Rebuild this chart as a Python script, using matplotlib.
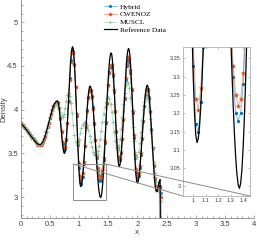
import numpy as np
import matplotlib
matplotlib.use('Agg')
import matplotlib.pyplot as plt
from matplotlib.patches import Rectangle, ConnectionPatch
from matplotlib.ticker import MultipleLocator, FormatStrFormatter

plt.rcParams['font.family'] = ['Liberation Sans', 'DejaVu Sans']

# ---------------- data ----------------
# Reference solution, sampled every 0.01 from x = 0
rho_ref = [
    3.850, 3.842, 3.834, 3.826, 3.818, 3.810, 3.802, 3.793, 3.785, 3.776,
    3.768, 3.759, 3.750, 3.741, 3.732, 3.723, 3.714, 3.705, 3.696, 3.687,
    3.678, 3.669, 3.660, 3.651, 3.643, 3.635, 3.627, 3.620, 3.614, 3.609,
    3.605, 3.602, 3.600, 3.600,
    3.601, 3.605, 3.612, 3.622, 3.634, 3.648, 3.664, 3.683, 3.703, 3.725,
    3.748, 3.773, 3.798, 3.824, 3.850, 3.876, 3.902, 3.927, 3.952, 3.975,
    3.997, 4.017, 4.036, 4.052, 4.067, 4.078, 4.088, 4.095, 4.099, 4.100,
    4.090, 4.060, 4.012, 3.950, 3.878, 3.800, 3.722, 3.650, 3.588, 3.540, 3.510, 3.500,
    3.515, 3.560, 3.633, 3.730, 3.845, 3.974, 4.110, 4.246, 4.375, 4.490, 4.587, 4.660, 4.705, 4.720,
    4.700, 4.641, 4.545, 4.419, 4.267, 4.098, 3.920, 3.742, 3.573, 3.421, 3.295, 3.199, 3.140, 3.120,
    3.131, 3.164, 3.217, 3.288, 3.376, 3.475, 3.583, 3.695, 3.807, 3.915, 4.014, 4.102, 4.173, 4.226, 4.259, 4.270,
    4.260, 4.232, 4.185, 4.121, 4.042, 3.951, 3.851, 3.743, 3.633, 3.522, 3.414, 3.314, 3.223, 3.144, 3.080, 3.034, 3.005, 2.995,
    3.008, 3.045, 3.106, 3.189, 3.291, 3.409, 3.540, 3.679, 3.823, 3.966, 4.106, 4.236, 4.354, 4.454, 4.536, 4.600, 4.637, 4.650,
    4.634, 4.586, 4.508, 4.405, 4.282, 4.145, 4.000, 3.855, 3.718, 3.595, 3.492, 3.414, 3.366, 3.350,
    3.363, 3.401, 3.464, 3.548, 3.650, 3.767, 3.893, 4.025, 4.157, 4.283, 4.400, 4.502, 4.586, 4.649, 4.687, 4.700,
    4.683, 4.633, 4.553, 4.445, 4.315, 4.168, 4.011, 3.849, 3.692, 3.545, 3.415, 3.307, 3.227, 3.177, 3.160,
    3.170, 3.198, 3.244, 3.306, 3.383, 3.470, 3.567, 3.668, 3.772, 3.873, 3.970, 4.057, 4.134, 4.196, 4.242, 4.270, 4.280,
    4.268, 4.234, 4.177, 4.101, 4.009, 3.903, 3.789, 3.670, 3.551, 3.437, 3.331, 3.239, 3.163, 3.106, 3.072, 3.060,
    3.069, 3.095, 3.130, 3.165, 3.191, 3.200,
    1.700,
]

# Numerical solutions, sampled every 0.02 from x = 0 (one row = 0.1 in x)
rho_hybrid = [
    3.85, 3.83, 3.82, 3.80, 3.79,
    3.77, 3.75, 3.73, 3.71, 3.70,
    3.68, 3.66, 3.64, 3.63, 3.61,
    3.60, 3.60, 3.60, 3.61, 3.63,
    3.66, 3.70, 3.75, 3.80, 3.85,
    3.90, 3.95, 4.00, 4.04, 4.07,
    4.09, 4.09, 4.08, 4.02, 3.89,
    3.74, 3.61, 3.54, 3.55, 3.65,
    3.85, 4.10, 4.36, 4.57, 4.68,
    4.67, 4.52, 4.26, 3.93, 3.60,
    3.33, 3.17, 3.15, 3.23, 3.38,
    3.58, 3.80, 4.00, 4.15, 4.23,
    4.23, 4.16, 4.03, 3.85, 3.65,
    3.45, 3.30, 3.20, 3.18, 3.20,
    3.28, 3.42, 3.62, 3.85, 4.08,
    4.28, 4.42, 4.49, 4.48, 4.38,
    4.20, 3.97, 3.74, 3.55, 3.44,
    3.42, 3.50, 3.66, 3.88, 4.12,
    4.34, 4.50, 4.57, 4.55, 4.42,
    4.22, 3.96, 3.68, 3.45, 3.29,
    3.22, 3.24, 3.33, 3.48, 3.67,
    3.87, 4.04, 4.17, 4.24, 4.24,
    4.15, 3.99, 3.78, 3.56, 3.35,
    3.19, 3.10, 3.08, 3.11, 3.13,
    3.05, 1.80,
]

rho_cwenoz = [
    3.85, 3.83, 3.82, 3.80, 3.79,
    3.77, 3.75, 3.73, 3.71, 3.70,
    3.68, 3.66, 3.64, 3.63, 3.61,
    3.60, 3.60, 3.60, 3.61, 3.63,
    3.66, 3.70, 3.75, 3.80, 3.85,
    3.90, 3.95, 4.00, 4.04, 4.07,
    4.08, 4.09, 4.08, 4.02, 3.90,
    3.76, 3.63, 3.56, 3.57, 3.66,
    3.85, 4.09, 4.34, 4.55, 4.66,
    4.65, 4.51, 4.26, 3.95, 3.64,
    3.39, 3.24, 3.21, 3.27, 3.40,
    3.59, 3.80, 3.99, 4.13, 4.21,
    4.21, 4.14, 4.01, 3.84, 3.65,
    3.47, 3.33, 3.25, 3.22, 3.24,
    3.31, 3.45, 3.64, 3.86, 4.08,
    4.28, 4.43, 4.51, 4.51, 4.41,
    4.23, 3.99, 3.76, 3.57, 3.46,
    3.44, 3.51, 3.67, 3.89, 4.13,
    4.36, 4.52, 4.60, 4.58, 4.45,
    4.24, 3.98, 3.71, 3.48, 3.32,
    3.25, 3.27, 3.36, 3.50, 3.68,
    3.87, 4.04, 4.16, 4.22, 4.21,
    4.12, 3.97, 3.77, 3.56, 3.37,
    3.22, 3.13, 3.10, 3.12, 3.10,
    3.00, 1.80,
]

rho_muscl = [
    3.85, 3.83, 3.82, 3.80, 3.79,
    3.77, 3.75, 3.73, 3.71, 3.70,
    3.68, 3.66, 3.64, 3.63, 3.62,
    3.61, 3.60, 3.61, 3.62, 3.64,
    3.67, 3.71, 3.75, 3.80, 3.85,
    3.90, 3.94, 3.98, 4.02, 4.05,
    4.07, 4.07, 4.06, 4.02, 3.97,
    3.93, 3.92, 3.95, 4.02, 4.10,
    4.17, 4.19, 4.16, 4.08, 3.96,
    3.83, 3.71, 3.63, 3.60, 3.62,
    3.67, 3.73, 3.79, 3.83, 3.85,
    3.86, 3.85, 3.82, 3.77, 3.70,
    3.63, 3.57, 3.52, 3.49, 3.48,
    3.49, 3.53, 3.59, 3.67, 3.76,
    3.86, 3.95, 4.03, 4.09, 4.13,
    4.14, 4.12, 4.06, 3.97, 3.86,
    3.74, 3.64, 3.57, 3.55, 3.58,
    3.66, 3.78, 3.92, 4.07, 4.19,
    4.28, 4.32, 4.31, 4.25, 4.13,
    3.98, 3.80, 3.64, 3.52, 3.46,
    3.46, 3.52, 3.62, 3.75, 3.88,
    4.00, 4.09, 4.14, 4.15, 4.11,
    4.02, 3.89, 3.73, 3.56, 3.40,
    3.27, 3.17, 3.11, 3.08, 3.05,
    2.95, 1.80,
]

labels = ['Hybrid', 'CWENOZ', 'MUSCL', 'Reference Data']
x_ticks = [0, 0.5, 1, 1.5, 2, 2.5, 3, 3.5, 4]
y_ticks = [3, 3.5, 4, 4.5, 5]
inset_x_ticks = [1, 1.1, 1.2, 1.3, 1.4]
inset_y_ticks = [3, 3.05, 3.1, 3.15, 3.2, 3.25, 3.3, 3.35]
zoom_box = (0.90, 1.46, 2.97, 3.378)   # x0, x1, y0, y1

x_ref = np.round(np.arange(len(rho_ref)) * 0.01, 2)
x_num = np.round(np.arange(len(rho_hybrid)) * 0.02, 2)

# ---------------- styles ----------------
blue = (0.0, 0.447, 0.741)
orange = (0.85, 0.325, 0.098)
green = (0.55, 0.78, 0.62)
tick_col = '#404040'
spine_col = '#8a8a8a'


def draw_series(a, ms_scale=1.0):
    hs = []
    hs += a.plot(x_num, rho_hybrid, '-', marker='o', color=blue + (0.55,),
                 mfc=blue, mec=blue, ms=1.9 * ms_scale, mew=0.3, lw=0.6)
    hs += a.plot(x_num, rho_cwenoz, '-', marker='*', color=orange + (0.55,),
                 mfc=orange, mec=orange, ms=3.1 * ms_scale, mew=0.3, lw=0.6)
    hs += a.plot(x_num, rho_muscl, '-', marker='+', color=green + (0.6,),
                 mfc=green, mec=green, ms=2.6 * ms_scale, mew=0.6, lw=0.6)
    hs += a.plot(x_ref, rho_ref, '-', color='black', lw=0.9)
    return hs


fig = plt.figure(figsize=(2.57, 2.40), dpi=100)
W, H = 257.0, 240.0

ax = fig.add_axes([20.7 / W, 1 - 218.3 / H, (254 - 20.7) / W, 218.3 / H])
handles = draw_series(ax)
ax.set_xlim(0, 4)
ax.set_ylim(2.757, 5.255)
ax.set_xticks(x_ticks)
ax.set_yticks(y_ticks)
ax.xaxis.set_major_formatter(FormatStrFormatter('%g'))
ax.yaxis.set_major_formatter(FormatStrFormatter('%g'))
ax.xaxis.set_minor_locator(MultipleLocator(0.1))
ax.yaxis.set_minor_locator(MultipleLocator(0.1))
ax.tick_params(which='both', direction='in', colors=spine_col, labelcolor=tick_col,
               width=0.5, labelsize=5.5)
ax.tick_params(which='major', length=2.5, pad=2)
ax.tick_params(which='minor', length=1.3)
for s in ['top', 'right']:
    ax.spines[s].set_visible(False)
for s in ['left', 'bottom']:
    ax.spines[s].set_color(spine_col)
    ax.spines[s].set_linewidth(0.6)
ax.set_ylabel('Density', fontsize=5.5, color=tick_col)
ax.yaxis.set_label_coords(-0.058, 0.5)
ax.set_xlabel('x', fontsize=6, color=tick_col)
ax.xaxis.set_label_coords(0.5, -0.05)

ax.add_patch(Rectangle((zoom_box[0], zoom_box[2]), zoom_box[1] - zoom_box[0],
                       zoom_box[3] - zoom_box[2], fill=False, ec='#8c8c8c', lw=0.7, zorder=5))

leg = ax.legend(handles, labels, loc='upper left', bbox_to_anchor=(104 / W, 1 - 3.5 / H),
                bbox_transform=fig.transFigure, frameon=False,
                prop={'family': 'Liberation Serif', 'size': 5.3},
                handlelength=1.7, handletextpad=0.45, labelspacing=0.22,
                borderpad=0, borderaxespad=0)

# inset
axins = fig.add_axes([182.7 / W, 1 - 196 / H, (250 - 182.7) / W, (196 - 47.3) / H])
draw_series(axins, ms_scale=1.1)
axins.set_xlim(0.915, 1.455)
axins.set_ylim(2.974, 3.38)
axins.set_xticks(inset_x_ticks)
axins.set_yticks(inset_y_ticks)
axins.xaxis.set_major_formatter(FormatStrFormatter('%g'))
axins.yaxis.set_major_formatter(FormatStrFormatter('%g'))
axins.tick_params(which='both', direction='in', top=True, right=True, colors=spine_col,
                  labelcolor=tick_col, width=0.4, length=1.5, labelsize=4.0, pad=1.5)
for s in axins.spines.values():
    s.set_color('#b0b0b0')
    s.set_linewidth(0.6)

for xa, xb in [((zoom_box[0], zoom_box[3]), (0, 0)), ((zoom_box[1], zoom_box[3]), (1, 0))]:
    cp = ConnectionPatch(xyA=xa, coordsA=ax.transData, xyB=xb, coordsB=axins.transAxes,
                         color='#8c8c8c', lw=0.7)
    fig.add_artist(cp)

fig.savefig('out.png', dpi=100)
